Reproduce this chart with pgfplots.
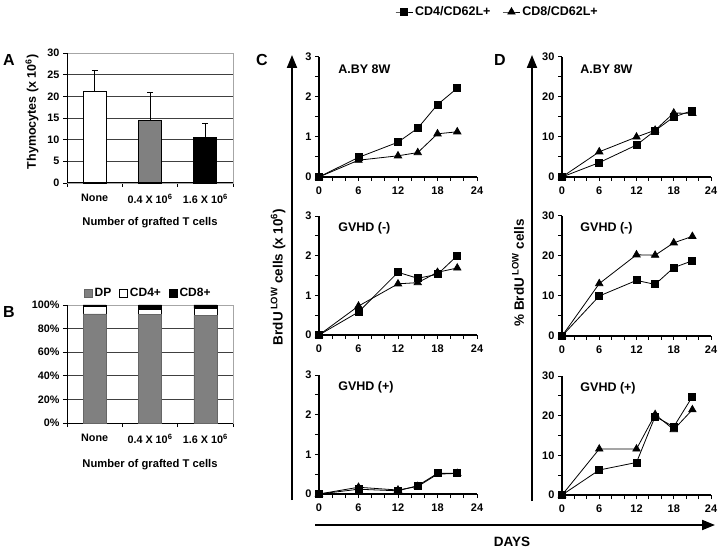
\documentclass[border=0pt]{standalone}
\usepackage{fontspec}
\setmainfont{Liberation Sans}
\usepackage{pgfplots}
\pgfplotsset{compat=1.18}
\usetikzlibrary{arrows.meta}
\newcommand{\fs}[1]{\fontsize{#1}{#1}\bfseries\selectfont}
\tikzset{lab/.style={anchor=west, font=\fs{12.5}}}
\pgfplotsset{
 barax/.style={scale only axis, anchor=south west, xmin=-0.5, xmax=2.5,
  axis line style={gray!70, line width=0.8pt}, ymajorgrids, grid style={black!75, line width=0.7pt},
  xtick={-0.5,0.5,1.5,2.5}, xticklabels={}, xtick pos=lower, ytick pos=left,
  tick align=outside, major tick length=4pt, every tick/.style={black, line width=0.9pt},
  extra x ticks={0,1,2},
  extra x tick labels={None,0.4 X 10\textsuperscript{6},1.6 X 10\textsuperscript{6}},
  extra x tick style={major tick length=0pt, tick label style={yshift=-8pt}},
  tick label style={font=\fs{10.8}}, clip=false},
 cd/.style={scale only axis, anchor=south west, axis x line=bottom, axis y line=left,
  axis line style={-, line width=1.3pt}, xmin=0, xmax=24, ymin=0,
  xtick={0,6,12,18,24}, minor xtick={2,4,...,22}, tick align=outside,
  major tick length=4pt, minor tick length=4pt, every tick/.style={black, line width=1pt},
  clip=false, xticklabel style={yshift=-2pt}, tick label style={font=\fs{11}},
  /pgf/number format/assume math mode=true},
 cdC/.style={cd, width=158pt, ymax=3, ytick={0,1,2,3}, minor ytick={0.5,1.5,2.5}},
 cdD/.style={cd, width=149pt, ymax=30, ytick={0,10,20,30}, minor ytick={5,15,25}},
 sq/.style={black, line width=0.8pt, mark=square*, mark size=3.5pt, mark options={solid}},
 tri/.style={black, line width=0.8pt, mark=triangle*, mark size=4.2pt, mark options={solid}},
}
\begin{document}
\begin{tikzpicture}[x=1pt,y=1pt,font=\fs{11}]
\path[use as bounding box] (0,0) rectangle (720,549);

% ---------------- Panel A
\begin{axis}[barax, width=166pt, height=130pt, at={(67pt,366pt)},
  ymin=0, ymax=30, ytick={0,5,...,30}, /pgf/number format/assume math mode=true]
\addplot[ybar, bar width=23pt, bar shift=0pt, fill=white, draw=black, line width=0.8pt,
  error bars/.cd, y dir=plus, y explicit, error bar style={line width=0.9pt},
  error mark options={rotate=90, mark size=3pt, line width=0.9pt}]
  coordinates {(0,21.2) +- (0,4.8)};
\addplot[ybar, bar width=23pt, bar shift=0pt, fill=black!50, draw=black, line width=0.8pt,
  error bars/.cd, y dir=plus, y explicit, error bar style={line width=0.9pt},
  error mark options={rotate=90, mark size=3pt, line width=0.9pt}]
  coordinates {(1,14.5) +- (0,6.3)};
\addplot[ybar, bar width=23pt, bar shift=0pt, fill=black, draw=black, line width=0.8pt,
  error bars/.cd, y dir=plus, y explicit, error bar style={line width=0.9pt},
  error mark options={rotate=90, mark size=3pt, line width=0.9pt}]
  coordinates {(2,10.6) +- (0,3.1)};
\draw[black, line width=1pt] (rel axis cs:0,1) -- (rel axis cs:0,0) -- (rel axis cs:1,0);
\end{axis}
\node[rotate=90, font=\fs{12.5}] at (32,437) {Thymocytes (x 10\textsuperscript{6})};
\node[font=\fs{11.2}] at (150,326) {Number of grafted T cells};

% ---------------- Panel B
\begin{axis}[barax, width=166pt, height=118pt, at={(67pt,126pt)},
  ymin=0, ymax=100, ytick={0,20,...,100}, yticklabels={0\%,20\%,40\%,60\%,80\%,100\%},
  ybar stacked, bar width=23pt,
  legend image code/.code={\draw[#1, line width=0.6pt] (0pt,-4pt) rectangle (8pt,4pt);},
  legend style={at={(0.49,1)}, anchor=south, yshift=5pt, legend columns=3, draw=none, fill=none,
    font=\fs{12}, inner sep=0pt, /tikz/every even column/.append style={column sep=6pt}}]
\addplot[fill=black!50, draw=black!60, line width=0.5pt] coordinates {(0,92.4) (1,91.8) (2,90.9)};
\addplot[fill=white, draw=black, line width=0.6pt] coordinates {(0,6.4) (1,4.8) (2,6.3)};
\addplot[fill=black, draw=black, line width=0.6pt] coordinates {(0,1.2) (1,3.4) (2,2.8)};
\legend{DP,CD4+,CD8+}
\draw[black, line width=1pt] (rel axis cs:0,1) -- (rel axis cs:0,0) -- (rel axis cs:1,0);
\end{axis}
\node[font=\fs{11.2}] at (150,84) {Number of grafted T cells};

% ---------------- Panel C
\begin{axis}[cdC, height=120pt, at={(319pt,372pt)},
  legend style={at={(1.13,1.375)}, anchor=center, draw=none, fill=none, legend columns=2,
    font=\fs{12.5}, /tikz/every even column/.append style={column sep=10pt}}]
\addplot[sq] coordinates {(0,0) (6,0.49) (12,0.87) (15,1.22) (18,1.81) (21,2.22)};
\addplot[tri] coordinates {(0,0) (6,0.42) (12,0.53) (15,0.61) (18,1.08) (21,1.13)};
\legend{CD4/CD62L+,CD8/CD62L+}
\node[lab] at (rel axis cs:0.1,0.9) {A.BY 8W};
\end{axis}
\begin{axis}[cdC, height=119pt, at={(319pt,214pt)}]
\addplot[sq] coordinates {(0,0) (6,0.58) (12,1.58) (15,1.43) (18,1.53) (21,2.0)};
\addplot[tri] coordinates {(0,0) (6,0.73) (12,1.29) (15,1.32) (18,1.58) (21,1.69)};
\node[lab] at (rel axis cs:0.1,0.9) {GVHD (-)};
\end{axis}
\begin{axis}[cdC, height=119pt, at={(319pt,55pt)}]
\addplot[sq] coordinates {(0,0) (6,0.12) (12,0.08) (15,0.21) (18,0.52) (21,0.52)};
\addplot[tri] coordinates {(0,0) (6,0.17) (12,0.1) (15,0.19) (18,0.5) (21,0.52)};
\node[lab] at (rel axis cs:0.1,0.9) {GVHD (+)};
\end{axis}

% ---------------- Panel D
\begin{axis}[cdD, height=120pt, at={(562pt,372pt)}]
\addplot[sq] coordinates {(0,0) (6,3.6) (12,8.0) (15,11.6) (18,15.0) (21,16.6)};
\addplot[tri] coordinates {(0,0) (6,6.3) (12,10.0) (15,11.7) (18,16.0) (21,15.9)};
\node[lab] at (rel axis cs:0.1,0.9) {A.BY 8W};
\end{axis}
\begin{axis}[cdD, height=120pt, at={(562pt,213pt)}]
\addplot[sq] coordinates {(0,0) (6,10.0) (12,13.9) (15,12.9) (18,17.1) (21,18.8)};
\addplot[tri] coordinates {(0,0) (6,13.1) (12,20.3) (15,20.2) (18,23.3) (21,24.9)};
\node[lab] at (rel axis cs:0.1,0.9) {GVHD (-)};
\end{axis}
\begin{axis}[cdD, height=119pt, at={(562pt,54pt)}]
\addplot[sq] coordinates {(0,0) (6,6.3) (12,8.2) (15,19.8) (18,17.2) (21,24.8)};
\addplot[tri] coordinates {(0,0) (6,11.6) (12,11.6) (15,20.3) (18,16.5) (21,21.5)};
\node[lab] at (rel axis cs:0.1,0.9) {GVHD (+)};
\end{axis}

% ---------------- arrows, labels, letters
\draw[line width=2pt, -{Triangle[length=13pt,width=10pt]}] (292,49) -- (292,494);
\draw[line width=2pt, -{Triangle[length=13pt,width=10pt]}] (532,48) -- (532,494);
\draw[line width=2pt, -{Triangle[length=13pt,width=10pt]}] (315,24) -- (715,24);
\node[rotate=90, font=\fs{13.5}] at (278,272) {BrdU\,\textsuperscript{LOW} cells (x 10\textsuperscript{6})};
\node[rotate=90, font=\fs{13.5}] at (518,276) {\% BrdU\,\textsuperscript{LOW} cells};
\node[font=\fs{13.5}] at (512,7) {DAYS};
\node[font=\fs{16}] at (9,489) {A};
\node[font=\fs{16}] at (9,237) {B};
\node[font=\fs{16}] at (262,489) {C};
\node[font=\fs{16}] at (500,489) {D};
\end{tikzpicture}
\end{document}
